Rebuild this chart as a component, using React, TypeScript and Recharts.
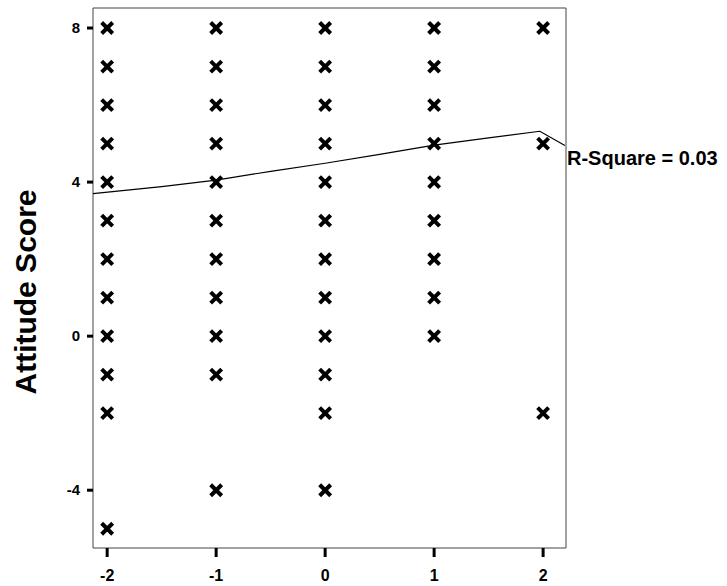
import React from "react";
import {
  ComposedChart,
  Scatter,
  XAxis,
  YAxis,
  ReferenceArea,
  ReferenceDot,
  Label,
} from "recharts";

// observed scores at each group level
const groupLevels = [-2, -1, 0, 1, 2];
const scoresAtMinus2 = [8, 7, 6, 5, 4, 3, 2, 1, 0, -1, -2, -5];
const scoresAtMinus1 = [8, 7, 6, 5, 4, 3, 2, 1, 0, -1, -4];
const scoresAt0 = [8, 7, 6, 5, 4, 3, 2, 1, 0, -1, -2, -4];
const scoresAt1 = [8, 7, 6, 5, 4, 3, 2, 1, 0];
const scoresAt2 = [8, 5, -2];

// fitted curve
const fitX = [-2.13, -1.5, -1, -0.5, 0, 0.5, 1, 1.5, 1.97, 2.2];
const fitY = [3.7, 3.88, 4.05, 4.28, 4.49, 4.72, 4.96, 5.15, 5.32, 4.95];

const yTicks = [8, 4, 0, -4];
const rSquareLabel = "R-Square = 0.03";

const allScores = [scoresAtMinus2, scoresAtMinus1, scoresAt0, scoresAt1, scoresAt2];
const points = groupLevels.flatMap((g, i) =>
  allScores[i].map((s) => ({ x: g, y: s }))
);
const fitLine = fitX.map((x, i) => ({ x, y: fitY[i] }));

const X_MIN = -2.13;
const X_MAX = 2.21;
const Y_MIN = -5.5;
const Y_MAX = 8.52;

const font = "Arial, 'Liberation Sans', sans-serif";

const Cross = (props: any) => {
  const { cx, cy } = props;
  const d = 5.5;
  return (
    <g stroke="#000" strokeWidth={4}>
      <line x1={cx - d} y1={cy - d} x2={cx + d} y2={cy + d} />
      <line x1={cx - d} y1={cy + d} x2={cx + d} y2={cy - d} />
    </g>
  );
};

const XTick = (props: any) => {
  const { x, y, payload } = props;
  return (
    <text x={x} y={y + 24} textAnchor="middle" fill="#000" fontSize={16} fontWeight="bold" fontFamily={font}>
      {payload.value}
    </text>
  );
};

const YTick = (props: any) => {
  const { x, y, payload } = props;
  return (
    <text x={x - 7} y={y + 5} textAnchor="end" fill="#000" fontSize={15} fontWeight="bold" fontFamily={font}>
      {payload.value}
    </text>
  );
};

export default function App() {
  return (
    <div style={{ position: "absolute", left: 0, top: 0, background: "#fff" }}>
      <ComposedChart
        width={727}
        height={586}
        margin={{ top: 8, right: 161, bottom: 0, left: 0 }}
      >
        <XAxis
          type="number"
          dataKey="x"
          domain={[X_MIN, X_MAX]}
          ticks={groupLevels}
          height={38}
          axisLine={false}
          tickSize={9}
          tickMargin={0}
          tickLine={{ stroke: "#000", strokeWidth: 3 }}
          tick={<XTick />}
        />
        <YAxis
          type="number"
          dataKey="y"
          domain={[Y_MIN, Y_MAX]}
          ticks={yTicks}
          width={93}
          axisLine={false}
          tickSize={6}
          tickMargin={0}
          tickLine={{ stroke: "#000", strokeWidth: 3 }}
          tick={<YTick />}
        >
          <Label
            value="Attitude Score"
            angle={-90}
            position="insideLeft"
            offset={25}
            dy={14}
            style={{
              fill: "#000",
              fontSize: 30,
              fontWeight: "bold",
              fontFamily: font,
              textAnchor: "middle",
            }}
          />
        </YAxis>
        <ReferenceArea
          x1={X_MIN}
          x2={X_MAX}
          y1={Y_MIN}
          y2={Y_MAX}
          fill="none"
          stroke="#444"
          strokeWidth={1}
        />
        <Scatter
          data={points}
          shape={Cross}
          isAnimationActive={false}
        />
        <Scatter
          data={fitLine}
          line={{ stroke: "#000", strokeWidth: 1.2 }}
          shape={() => null}
          isAnimationActive={false}
        />
        <ReferenceDot
          x={X_MAX}
          y={fitY[fitY.length - 1]}
          r={0}
          stroke="none"
          ifOverflow="visible"
        >
          <Label
            value={rSquareLabel}
            position="right"
            offset={1}
            dy={12}
            style={{ fill: "#000", fontSize: 20, fontWeight: "bold", fontFamily: font }}
          />
        </ReferenceDot>
      </ComposedChart>
    </div>
  );
}
